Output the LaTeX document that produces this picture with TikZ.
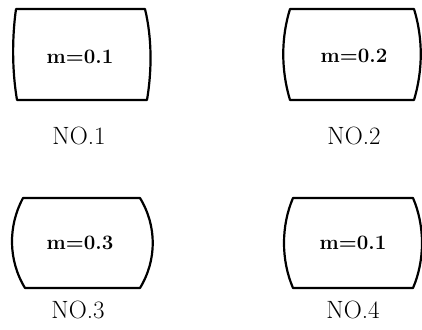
\documentclass[tikz,border=0pt]{standalone}
\begin{document}
\begin{tikzpicture}[x=1pt,y=-1pt,
  barrel/.style={line width=2.2pt,line join=round},
  mlabel/.style={font=\fontsize{20.5}{20.5}\selectfont\bfseries,inner sep=0pt},
  nlabel/.style={font=\fontsize{25}{25}\selectfont,inner sep=0pt}]
\useasboundingbox (0,0) rectangle (422,329);
% box 1
\draw[barrel] (16,9) -- (145,9) .. controls (152,38) and (152,70) .. (147,100) -- (17,100) .. controls (12,70) and (12,38) .. (16,9) -- cycle;
\node[mlabel] (m1) at (80,57) {m=0.1};
\node[nlabel] (n1) at (79,136) {NO.1};
% box 2
\draw[barrel] (290,9) -- (414,9) .. controls (423,38) and (423,70) .. (414,100) -- (290,100) .. controls (281,70) and (281,38) .. (290,9) -- cycle;
\node[mlabel] (m2) at (354,56) {m=0.2};
\node[nlabel] (n2) at (354,136) {NO.2};
% box 3
\draw[barrel] (23,198) -- (140,198) .. controls (157,226) and (157,260) .. (140,288) -- (25,288) .. controls (8,260) and (8,226) .. (23,198) -- cycle;
\node[mlabel] (m3) at (80,243) {m=0.3};
\node[nlabel] (n3) at (78,310) {NO.3};
% box 4
\draw[barrel] (293,198) -- (413,198) .. controls (425,226) and (425,260) .. (413,288) -- (293,288) .. controls (281,260) and (281,226) .. (293,198) -- cycle;
\node[mlabel] (m4) at (353,243) {m=0.1};
\node[nlabel] (n4) at (353,310) {NO.4};
\end{tikzpicture}
\end{document}
